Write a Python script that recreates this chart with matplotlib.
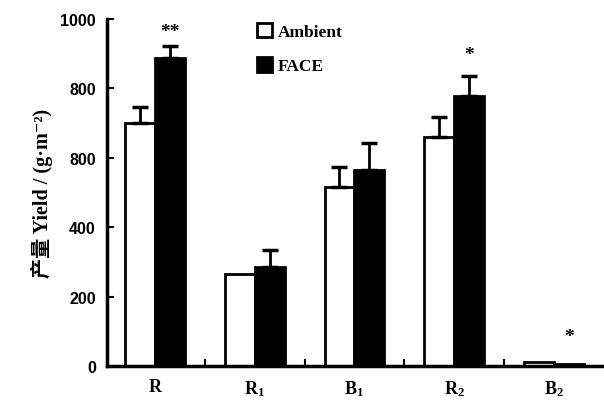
import matplotlib
matplotlib.use("Agg")
import matplotlib.pyplot as plt
import numpy as np

plt.rcParams["mathtext.fontset"] = "custom"
plt.rcParams["mathtext.rm"] = "Liberation Serif:bold"
plt.rcParams["mathtext.default"] = "rm"

categories = ["R", "R$_1$", "B$_1$", "R$_2$", "B$_2$"]
ambient = [700, 265, 516, 660, 10]
ambient_err = [47, 0, 57, 57, 0]
face = [888, 285, 565, 778, 5]
face_err = [34, 49, 78, 58, 0]
face_sig = ["**", "", "", "*", "*"]
face_sig_y = [965, 0, 0, 899, 84]
yticks = [0, 200, 400, 600, 800, 1000]
ytick_labels = ["0", "200", "400", "800", "800", "1000"]

serif = ["Liberation Serif", "DejaVu Serif"]
fig = plt.figure(figsize=(6.04, 4.10), dpi=100)
ax = fig.add_axes([0.177, 0.105, 0.823, 0.846])

x = np.arange(len(categories))
w = 0.3
lw = 2.0
ax.bar(x - w / 2, ambient, width=w, color="white", edgecolor="black", linewidth=lw, zorder=2)
ax.bar(x + w / 2, face, width=w, color="black", edgecolor="black", linewidth=lw, zorder=2)

for xi, v, e in zip(x - w / 2, ambient, ambient_err):
    if e > 0:
        ax.errorbar(xi, v, yerr=[[0], [e]], color="black", capsize=6, capthick=2.5, elinewidth=2, zorder=3)
for xi, v, e in zip(x + w / 2, face, face_err):
    if e > 0:
        ax.errorbar(xi, v, yerr=[[0], [e]], color="black", capsize=6, capthick=2.5, elinewidth=2, zorder=3)
for xi, s, yy in zip(x + w / 2, face_sig, face_sig_y):
    if s:
        ax.text(xi, yy, s, ha="center", va="center", fontsize=14, fontweight="bold", family=serif)

ax.set_xlim(-0.48, 4.5)
ax.set_ylim(0, 1000)
ax.set_yticks(yticks)
ax.set_yticklabels(ytick_labels, family=["Liberation Sans", "DejaVu Sans"], fontweight="bold", fontsize=11.5)
ax.set_xticks(x)
ax.set_xticklabels(categories, family=serif, fontweight="bold", fontsize=13)
ax.set_xticks(x[:-1] + 0.5, minor=True)
ax.tick_params(axis="x", which="major", length=0, pad=9)
ax.tick_params(axis="x", which="minor", direction="in", length=5, width=1.5)
ax.tick_params(axis="y", which="major", direction="in", length=5, width=1.5, pad=8)

for s in ["top", "right"]:
    ax.spines[s].set_visible(False)
for s in ["left", "bottom"]:
    ax.spines[s].set_linewidth(2.5)

ax.set_ylabel("产量 Yield / (g·m⁻²)", family=["Liberation Serif", "Noto Sans CJK SC", "DejaVu Serif"],
              fontweight="bold", fontsize=14.5, labelpad=5)

from matplotlib.patches import Patch
handles = [Patch(facecolor="white", edgecolor="black", linewidth=2),
           Patch(facecolor="black", edgecolor="black", linewidth=2)]
leg = ax.legend(handles, ["Ambient", "FACE"], loc="upper left", bbox_to_anchor=(0.27, 1.035),
                frameon=False, handlelength=0.9, handleheight=0.9, handletextpad=0.3,
                labelspacing=1.0, prop={"family": serif, "weight": "bold", "size": 12.5})

fig.savefig("out.png", dpi=100)
